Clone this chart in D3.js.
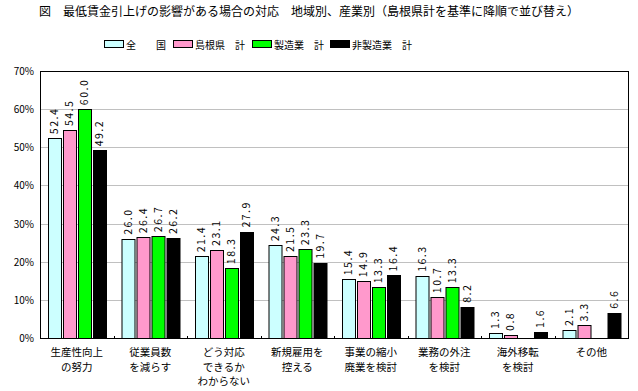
<!DOCTYPE html>
<html>
<head>
<meta charset="utf-8">
<script src="https://cdn.jsdelivr.net/npm/d3@7"></script>
<style>
  body { margin: 0; background: #fff; }
  svg text { font-family: "Noto Sans CJK JP", "DejaVu Sans", sans-serif; fill: #000; }
</style>
</head>
<body>
<div class="chart"></div>
<script>
const titleText = '図　最低賃金引上げの影響がある場合の対応　地域別、産業別（島根県計を基準に降順で並び替え）';
const categories = [
    ['生産性向上', 'の努力'],
    ['従業員数', 'を減らす'],
    ['どう対応', 'できるか', 'わからない'],
    ['新規雇用を', '控える'],
    ['事業の縮小', '廃業を検討'],
    ['業務の外注', 'を検討'],
    ['海外移転', 'を検討'],
    ['その他']
];
const seriesNames = ['全　　国', '島根県　計', '製造業　計', '非製造業　計'];
const seriesColors = ['#ccffff', '#ff99cc', '#00ff00', '#000000'];
const zenkoku = [52.4, 26.0, 21.4, 24.3, 15.4, 16.3, 1.3, 2.1];
const shimane = [54.5, 26.4, 23.1, 21.5, 14.9, 10.7, 0.8, 3.3];
const seizo = [60.0, 26.7, 18.3, 23.3, 13.3, 13.3, null, null];
const hiseizo = [49.2, 26.2, 27.9, 19.7, 16.4, 8.2, 1.6, 6.6];
const yTicks = [0, 10, 20, 30, 40, 50, 60, 70];

const series = [zenkoku, shimane, seizo, hiseizo];

const W = 638, H = 391;
const margin = { top: 71, left: 40, right: 10, bottom: 53 };
const width = W - margin.left - margin.right;
const height = H - margin.top - margin.bottom;

const svg = d3.select('.chart').append('svg')
    .attr('width', W)
    .attr('height', H);

svg.append('text')
    .attr('x', 309).attr('y', 16)
    .attr('text-anchor', 'middle')
    .style('font-size', '12px')
    .text(titleText);

// legend
const legendX = [104, 173, 252, 330];
const legend = svg.append('g');
seriesNames.forEach(function (name, i) {
    legend.append('rect')
        .attr('x', legendX[i] + 0.5).attr('y', 40.5)
        .attr('width', 19).attr('height', 7)
        .attr('fill', seriesColors[i]).attr('stroke', '#000');
    legend.append('text')
        .attr('x', legendX[i] + 22).attr('y', 48.5)
        .style('font-size', '10px')
        .text(name);
});

const holder = svg.append('g').attr('transform', 'translate(' + margin.left + ', ' + margin.top + ')');

const x0 = d3.scaleBand().domain(d3.range(categories.length)).range([0, width]).padding(0);
const x1 = d3.scaleBand().domain(d3.range(series.length))
    .range([8, x0.bandwidth() - 8]).paddingInner(0.14);
const y = d3.scaleLinear().domain([0, 70]).range([height, 0]);

// grid
holder.append('g').selectAll('line')
    .data(yTicks.filter(function (t) { return t > 0 && t < 70; }))
    .enter().append('line')
    .attr('x1', 0).attr('x2', width)
    .attr('y1', function (d) { return Math.round(y(d)) + 0.5; })
    .attr('y2', function (d) { return Math.round(y(d)) + 0.5; })
    .attr('stroke', '#c0c0c0');

// frame
holder.append('rect')
    .attr('x', 0.5).attr('y', 0.5)
    .attr('width', width).attr('height', height)
    .attr('fill', 'none').attr('stroke', '#000');

// y axis labels
holder.append('g').selectAll('text')
    .data(yTicks).enter().append('text')
    .attr('x', -6).attr('y', function (d) { return y(d) + 4; })
    .attr('text-anchor', 'end')
    .style('font-size', '10px')
    .text(function (d) { return d + '%'; });

// x ticks at group boundaries
holder.append('g').selectAll('line')
    .data(d3.range(1, categories.length))
    .enter().append('line')
    .attr('x1', function (d) { return Math.round(x0(d)) + 0.5; })
    .attr('x2', function (d) { return Math.round(x0(d)) + 0.5; })
    .attr('y1', height - 2).attr('y2', height + 1)
    .attr('stroke', '#000');

// bars
const groups = holder.selectAll('.grp').data(categories).enter().append('g')
    .attr('class', 'grp')
    .attr('transform', function (d, i) { return 'translate(' + x0(i) + ',0)'; });

groups.each(function (c, ci) {
    const g = d3.select(this);
    series.forEach(function (s, si) {
        const v = s[ci];
        if (v == null) return;
        g.append('rect')
            .attr('x', Math.round(x1(si)) + 0.5)
            .attr('y', Math.round(y(v)) + 0.5)
            .attr('width', Math.round(x1.bandwidth()))
            .attr('height', Math.round(height - y(v)))
            .attr('fill', seriesColors[si])
            .attr('stroke', '#000');
        const cx = x1(si) + x1.bandwidth() / 2 + 4;
        const ty = y(v) - 4;
        g.append('text')
            .attr('transform', 'translate(' + cx + ',' + ty + ') rotate(-90)')
            .style('font-size', '10.5px')
            .style('letter-spacing', '1.5px')
            .text(v.toFixed(1));
    });
    c.forEach(function (line, li) {
        g.append('text')
            .attr('x', x0.bandwidth() / 2)
            .attr('y', height + 18 + li * 14.5)
            .attr('text-anchor', 'middle')
            .style('font-size', '10.5px')
            .text(line);
    });
});
</script>
</body>
</html>
